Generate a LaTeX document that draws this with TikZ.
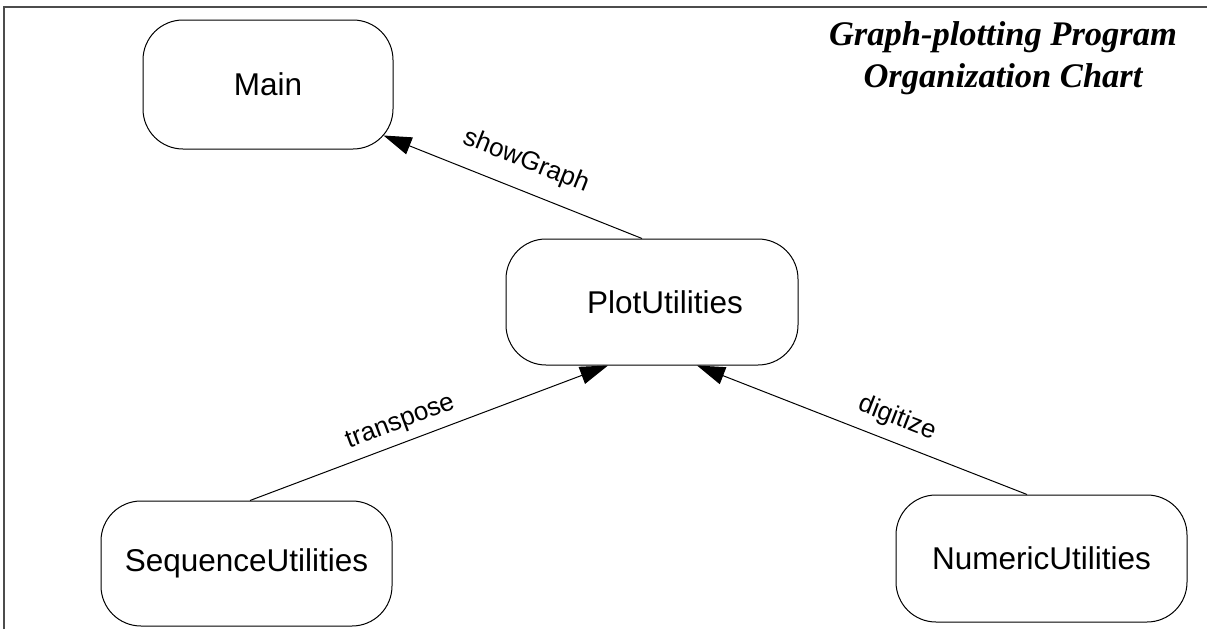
\documentclass[tikz,border=0pt]{standalone}
\usepackage{fontspec}
\setmainfont{Liberation Sans}
\newfontfamily\titlefont{Liberation Serif}
\usetikzlibrary{arrows.meta,calc}

\tikzset{
	module/.style={draw, line width=1pt, rounded corners=40pt, minimum width=291pt, minimum height=126pt, inner sep=0pt, font=\fontsize{31.5}{38}\selectfont},
	call/.style={line width=1pt, arrows={-{Triangle[length=28pt,width=18pt]}}},
	callname/.style={sloped, inner sep=0pt, font=\fontsize{26}{31}\selectfont}
}

\begin{document}
\begin{tikzpicture}[x=1pt,y=-1pt]
	\useasboundingbox (0,0) rectangle (1207,629);
	\draw [line width=1.5pt, black!70] (4,629) -- (4,7) -- (1207,7);
	\node [module, minimum width=250pt, minimum height=129pt] (main) at (268,84.5) {Main};
	\node [module, minimum width=292pt] (plot) at (652,302) {\hspace*{26pt}PlotUtilities};
	\node [module, minimum height=125pt] (seq) at (246.5,563.5) {SequenceUtilities};
	\node [module, minimum height=127pt] (num) at (1041.5,558.5) {NumericUtilities};
	\node [align=center, font=\titlefont\bfseries\itshape\fontsize{34.5}{41.5}\selectfont] (title) at (1003,58) {Graph-plotting Program\\Organization Chart};
	\draw [call] ([xshift=-10pt]plot.north) -- ($(main.south east)+(-10,-14)$) node [callname, pos=0.49, above=16pt] {showGraph};
	\draw [call] ([xshift=3.5pt]seq.north) -- ([xshift=-44pt]plot.south) node [callname, pos=0.44, above=8pt] {transpose};
	\draw [call] ([xshift=-14.5pt]num.north) -- ([xshift=45pt]plot.south) node [callname, pos=0.42, above=11pt] {digitize};
\end{tikzpicture}
\end{document}
